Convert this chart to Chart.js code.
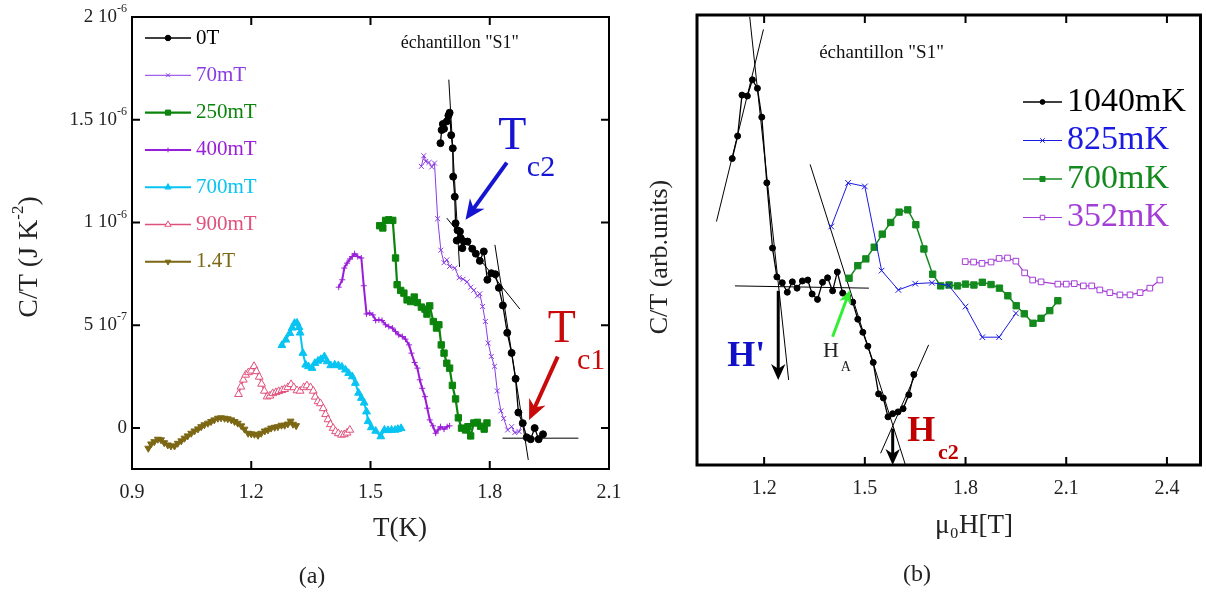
<!DOCTYPE html>
<html>
<head>
<meta charset="utf-8">
<script src="https://cdn.jsdelivr.net/npm/chart.js@4.4.1/dist/chart.umd.min.js"></script>
<style>
body{margin:0;background:#fff;}
#wrap{position:relative;width:1206px;height:597px;}
canvas{position:absolute;left:0;top:0;}
</style>
</head>
<body>
<div id="wrap">
<canvas id="left" width="1206" height="597"></canvas>
<canvas id="right" width="1206" height="597"></canvas>
</div>
<script>
// ---- panel (a): C/T vs T, C/T in units of 1e-7 J K^-2 ----
let t0T=[1.676,1.679,1.682,1.685,1.692,1.696,1.699,1.703,1.707,1.708,1.712,1.714,1.719,1.725,1.717,1.727,1.731,1.735,1.744,1.756,1.765,1.775,1.785,1.794,1.804,1.814,1.823,1.833,1.844,1.855,1.865,1.872,1.883,1.893,1.903,1.913,1.923,1.934];
let c0T=[13.86,14.5,14.79,14.56,14.92,15.2,15.34,14.25,13.61,12.23,11.25,9.96,9.62,9.56,9.12,9.24,8.75,9.07,9.07,8.72,8.48,8.13,8.59,7.21,7.53,7.48,6.82,5.96,4.63,3.65,2.39,0.75,0.23,-0.46,-0.55,-0.01,-0.55,-0.31];

let t70=[1.628,1.634,1.639,1.647,1.654,1.661,1.669,1.677,1.685,1.692,1.699,1.712,1.723,1.733,1.743,1.752,1.760,1.769,1.775,1.782,1.789,1.796,1.804,1.812,1.819,1.828,1.835,1.845,1.855,1.863,1.874,1.882];
let c70=[12.73,13.25,12.97,12.92,12.70,12.89,10.18,8.65,8.04,8.18,7.86,7.78,7.31,7.24,7.11,6.85,6.70,6.43,6.53,5.91,5.18,4.13,3.48,3.00,1.80,0.83,0.46,-0.10,0.06,-0.23,-0.18,0.23];

let t250=[1.523,1.531,1.538,1.546,1.556,1.563,1.567,1.576,1.584,1.592,1.601,1.610,1.618,1.628,1.637,1.642,1.649,1.658,1.666,1.672,1.678,1.685,1.692,1.699,1.706,1.714,1.721,1.729,1.739,1.745,1.752,1.760,1.769,1.777,1.786,1.793];
let c250=[9.84,9.73,10.10,10.13,10.10,8.27,6.97,6.69,6.56,6.23,6.15,6.37,6.10,5.88,5.78,5.54,5.94,5.18,4.86,5.02,4.04,3.64,3.15,2.91,2.07,1.41,0.49,-0.01,-0.10,0.06,-0.39,0.24,0.27,0.08,-0.06,0.24];

let t400=[1.420,1.429,1.434,1.441,1.448,1.454,1.460,1.468,1.477,1.483,1.490,1.498,1.506,1.513,1.521,1.529,1.538,1.546,1.555,1.563,1.571,1.580,1.588,1.597,1.603,1.611,1.618,1.624,1.630,1.637,1.643,1.649,1.657,1.664,1.670,1.676,1.685,1.693,1.699];
let c400=[6.85,7.21,7.78,8.02,8.22,8.34,8.48,8.34,8.27,6.92,5.55,5.59,5.50,5.23,5.26,5.23,5.02,4.93,4.86,4.69,4.53,4.45,4.32,4.04,3.64,3.18,2.91,2.34,1.93,1.52,0.96,0.39,0.10,-0.26,-0.10,0.06,-0.06,0.06,0.10];

let t700=[1.277,1.287,1.297,1.303,1.309,1.315,1.320,1.323,1.330,1.337,1.344,1.353,1.360,1.368,1.375,1.384,1.391,1.400,1.410,1.419,1.428,1.437,1.445,1.454,1.462,1.470,1.477,1.484,1.490,1.494,1.502,1.513,1.526,1.535,1.544,1.553,1.562,1.569,1.577];
let c700=[4.02,4.29,4.61,4.87,5.10,5.11,4.90,4.63,3.64,3.07,2.99,2.91,3.15,3.26,3.34,3.47,3.23,3.04,3.07,3.04,2.97,2.83,2.66,2.50,2.18,1.70,1.45,1.22,0.79,0.32,0.02,-0.15,-0.42,-0.10,-0.12,-0.10,-0.10,-0.06,-0.02];

let t900=[1.168,1.174,1.180,1.186,1.193,1.200,1.207,1.213,1.220,1.226,1.233,1.240,1.247,1.254,1.262,1.269,1.277,1.284,1.292,1.300,1.307,1.315,1.323,1.332,1.340,1.349,1.356,1.361,1.368,1.374,1.381,1.387,1.393,1.399,1.406,1.412,1.419,1.427,1.434,1.441,1.448];
let c900=[1.64,2.00,2.34,2.58,2.70,2.78,3.00,2.75,2.48,2.14,1.80,1.52,1.56,1.68,1.73,1.78,1.83,1.88,1.97,2.12,1.97,1.82,1.80,1.97,2.06,1.97,1.80,1.51,1.29,1.19,0.95,0.66,0.41,0.17,-0.01,-0.17,-0.27,-0.34,-0.32,-0.24,-0.10];

let t14=[0.941,0.948,0.956,0.965,0.973,0.981,0.990,0.998,1.007,1.015,1.024,1.032,1.040,1.049,1.057,1.066,1.074,1.082,1.091,1.099,1.107,1.116,1.124,1.133,1.141,1.150,1.158,1.166,1.175,1.183,1.192,1.200,1.208,1.217,1.225,1.234,1.242,1.250,1.259,1.267,1.276,1.284,1.292,1.299,1.305,1.313];
let c14=[-0.99,-0.78,-0.67,-0.55,-0.58,-0.72,-0.83,-0.88,-0.88,-0.75,-0.63,-0.50,-0.39,-0.26,-0.15,-0.05,0.06,0.15,0.23,0.31,0.39,0.47,0.49,0.47,0.44,0.39,0.31,0.23,0.10,-0.06,-0.26,-0.29,-0.31,-0.36,-0.26,-0.15,-0.10,-0.01,0.03,0.06,0.13,0.13,0.19,0.33,0.18,0.11];

// straight construction lines of panel (a), [T, C/T]
let fitSteep=[[1.697,16.95],[1.724,7.84]];
let fitTc2=[[1.692,10.21],[1.876,5.78]];
let fitTc1=[[1.813,8.91],[1.897,-1.56]];
let fitBase=[[1.832,-0.5],[2.023,-0.5]];

let tTicks=[0.9,1.2,1.5,1.8,2.1];
let tTickLabels=["0.9","1.2","1.5","1.8","2.1"];
let cTicks=[0,5,10,15,20];
let cTickMant=["0","5 10","1 10","1.5 10","2 10"];
let cTickExp=["","-7","-6","-6","-6"];

// ---- panel (b): C/T (arb. units) vs mu0 H ----
let h1040=[1.105,1.121,1.134,1.150,1.165,1.180,1.193,1.208,1.225,1.238,1.254,1.269,1.284,1.298,1.314,1.330,1.343,1.359,1.374,1.389,1.404,1.418,1.434,1.449,1.464,1.479,1.494,1.509,1.525,1.541,1.555,1.569,1.583,1.599,1.614,1.631,1.646];
let c1040=[68.1,73.1,82.2,82.0,85.6,83.7,77.3,62.7,48.2,41.8,40.5,38.4,40.7,39.3,40.9,41.1,38.0,36.8,40.6,41.6,38.7,42.9,38.2,37.4,36.2,32.4,29.5,26.4,22.8,15.8,14.9,10.7,11.4,11.8,12.5,15.6,20.1];

let h825=[1.40,1.45,1.50,1.55,1.60,1.65,1.70,1.75,1.80,1.85,1.90,1.95];
let c825=[53.0,62.7,61.9,43.2,38.9,40.3,40.5,39.9,35.2,28.4,28.4,33.7];

let h700=[1.453,1.479,1.503,1.528,1.552,1.577,1.602,1.628,1.652,1.676,1.702,1.726,1.751,1.776,1.800,1.825,1.850,1.876,1.901,1.926,1.951,1.975,2.001,2.025,2.051,2.075];
let c700mK=[41.5,44.3,45.8,48.4,51.3,53.9,56.2,56.7,53.4,48.0,42.4,39.8,40.0,39.8,40.2,40.0,40.6,40.1,39.3,37.6,35.4,33.6,31.5,32.6,34.3,36.5];

let h352=[1.799,1.824,1.849,1.876,1.900,1.925,1.950,1.976,2.000,2.025,2.075,2.100,2.124,2.151,2.176,2.200,2.230,2.260,2.290,2.320,2.349,2.379];
let c352=[45.2,45.1,44.8,45.1,45.9,46.0,45.3,42.7,41.1,40.7,40.2,40.2,40.3,39.8,39.8,38.9,38.3,37.8,37.8,38.3,39.3,41.1];

let fitRise=[[1.058,54.1],[1.198,96.8]];
let fitFall=[[1.157,99.6],[1.273,18.9]];
let fitFlat=[[1.113,39.8],[1.512,39.3]];
let fitHA=[[1.337,66.8],[1.621,0]];
let fitHc2=[[1.547,2.6],[1.690,26.7]];

let hTicks=[1.2,1.5,1.8,2.1,2.4];
let hTickLabels=["1.2","1.5","1.8","2.1","2.4"];

const SERIF="'Liberation Serif', 'DejaVu Serif', serif";

function pts(xs,ys){ return xs.map((x,i)=>({x:x,y:ys[i]})); }

function series(label,xs,ys,color,style,r,bw,fillc,rot,pbw){
  return {
    label:label, data:pts(xs,ys),
    borderColor:color, backgroundColor:color,
    pointStyle:style, pointRadius:r, pointHoverRadius:r,
    pointBackgroundColor:fillc||color, pointBorderColor:color,
    pointBorderWidth:pbw||1, pointRotation:rot||0,
    borderWidth:bw, showLine:true, tension:0, fill:false
  };
}

function fitLine(p){
  return {label:"", data:p.map(q=>({x:q[0],y:q[1]})), borderColor:"#000", borderWidth:1,
    pointRadius:0, showLine:true, fill:false};
}

function txt(ctx,s,x,y,font,color,align,rot){
  ctx.save();
  ctx.font=font; ctx.fillStyle=color; ctx.textAlign=align||"center"; ctx.textBaseline="middle";
  ctx.translate(x,y);
  if(rot) ctx.rotate(rot);
  ctx.fillText(s,0,0);
  ctx.restore();
}

// text with a raised exponent, drawn left-to-right from x (or rotated)
function supTxt(ctx,base,sup,tail,x,y,size,color,align,rot){
  ctx.save();
  ctx.fillStyle=color; ctx.textBaseline="middle"; ctx.textAlign="left";
  ctx.font=size+"px "+SERIF;
  let w1=ctx.measureText(base).width, w3=ctx.measureText(tail).width;
  ctx.font=Math.round(size*0.62)+"px "+SERIF;
  let w2=ctx.measureText(sup).width;
  let tot=w1+w2+w3;
  ctx.translate(x,y);
  if(rot) ctx.rotate(rot);
  let x0=align==="right"?-tot:(align==="center"?-tot/2:0);
  ctx.font=size+"px "+SERIF;
  ctx.fillText(base,x0,0);
  ctx.font=Math.round(size*0.62)+"px "+SERIF;
  ctx.fillText(sup,x0+w1,-size*0.42);
  ctx.font=size+"px "+SERIF;
  ctx.fillText(tail,x0+w1+w2,0);
  ctx.restore();
}

function arrow(ctx,x1,y1,x2,y2,color,w,head){
  let a=Math.atan2(y2-y1,x2-x1);
  let c=Math.cos(a), s=Math.sin(a);
  let bx=x2-head*c, by=y2-head*s;
  ctx.save();
  ctx.strokeStyle=color; ctx.fillStyle=color; ctx.lineWidth=w;
  ctx.beginPath(); ctx.moveTo(x1,y1); ctx.lineTo(x2-head*0.6*c,y2-head*0.6*s); ctx.stroke();
  ctx.beginPath();
  ctx.moveTo(x2,y2);
  ctx.lineTo(bx-head*0.45*s, by+head*0.45*c);
  ctx.lineTo(x2-head*0.7*c, y2-head*0.7*s);
  ctx.lineTo(bx+head*0.45*s, by-head*0.45*c);
  ctx.closePath(); ctx.fill();
  ctx.restore();
}

function frame(chart,lw,xt,yt){
  let ctx=chart.ctx, a=chart.chartArea;
  let xs=chart.scales.x, ys=chart.scales.y;
  ctx.save();
  ctx.strokeStyle="#000"; ctx.lineWidth=lw;
  ctx.strokeRect(a.left,a.top,a.right-a.left,a.bottom-a.top);
  ctx.lineWidth=2;
  ctx.beginPath();
  xt.forEach(v=>{
    let p=xs.getPixelForValue(v);
    ctx.moveTo(p,a.bottom); ctx.lineTo(p,a.bottom-8);
    ctx.moveTo(p,a.top); ctx.lineTo(p,a.top+8);
  });
  yt.forEach(v=>{
    let p=ys.getPixelForValue(v);
    ctx.moveTo(a.left,p); ctx.lineTo(a.left+8,p);
    ctx.moveTo(a.right,p); ctx.lineTo(a.right-8,p);
  });
  ctx.stroke();
  ctx.restore();
}

function legend(chart,x1,x2,tx,y0,dy,font){
  let ctx=chart.ctx, row=0;
  chart.data.datasets.forEach(ds=>{
    if(!ds.label) return;
    let y=y0+row*dy; row++;
    ctx.save();
    ctx.strokeStyle=ds.borderColor; ctx.lineWidth=ds.borderWidth;
    ctx.beginPath(); ctx.moveTo(x1,y); ctx.lineTo(x2,y); ctx.stroke();
    ctx.fillStyle=ds.pointBackgroundColor; ctx.strokeStyle=ds.pointBorderColor; ctx.lineWidth=ds.pointBorderWidth;
    Chart.helpers.drawPoint(ctx,{pointStyle:ds.pointStyle,rotation:ds.pointRotation,radius:ds.pointRadius*0.8,borderWidth:ds.pointBorderWidth},(x1+x2)/2,y);
    ctx.restore();
    txt(ctx,ds.label,tx,y,font,ds.borderColor,"left");
  });
}

const leftDecor={
  id:"leftDecor",
  afterDraw(chart){
    let ctx=chart.ctx, X=chart.scales.x, Y=chart.scales.y;
    let px=v=>X.getPixelForValue(v), py=v=>Y.getPixelForValue(v);
    frame(chart,2,tTicks,cTicks);
    // y tick labels with raised exponents
    cTicks.forEach((v,i)=>{
      let w=cTickExp[i]?0:0;
      supTxt(ctx,cTickMant[i],cTickExp[i],"",127,py(v),19,"#222","right");
    });
    legend(chart,145,191,196,38,37.3,"21px "+SERIF);
    txt(ctx,"\u00E9chantillon \"S1\"",px(1.576),py(18.7),"18px "+SERIF,"#111","left");
    // Tc2
    arrow(ctx,px(1.843),py(12.91),px(1.739),py(10.13),"#1414d2",4,20);
    txt(ctx,"T",px(1.857),py(14.17),"46px "+SERIF,"#1414d2");
    txt(ctx,"c2",px(1.929),py(12.66),"30px "+SERIF,"#1414d2");
    // Tc1
    arrow(ctx,px(1.971),py(3.47),px(1.899),py(0.39),"#c80a0a",4,20);
    txt(ctx,"T",px(1.981),py(4.77),"46px "+SERIF,"#c80a0a");
    txt(ctx,"c1",px(2.055),py(3.26),"30px "+SERIF,"#c80a0a");
    // axis titles
    txt(ctx,"T(K)",400,529,"27px "+SERIF,"#222");
    supTxt(ctx,"C/T (J K","-2",")",30,257,28,"#222","center",-Math.PI/2);
    txt(ctx,"(a)",312,577,"24px "+SERIF,"#222");
  }
};

const rightDecor={
  id:"rightDecor",
  afterDraw(chart){
    let ctx=chart.ctx, X=chart.scales.x, Y=chart.scales.y;
    let px=v=>X.getPixelForValue(v), py=v=>Y.getPixelForValue(v);
    frame(chart,3,hTicks,[]);
    legend(chart,1023,1062,1067,102,38.5,"34px "+SERIF);
    txt(ctx,"\u00E9chantillon \"S1\"",px(1.364),py(91.6),"19px "+SERIF,"#111","left");
    // H'
    arrow(ctx,px(1.242),py(38.7),px(1.242),py(18.9),"#000",3,16);
    txt(ctx,"H'",px(1.147),py(24.0),"bold 36px "+SERIF,"#1010c8");
    // HA
    arrow(ctx,px(1.404),py(28.5),px(1.456),py(38.9),"#33ee33",3,14);
    txt(ctx,"H",px(1.399),py(25.2),"22px "+SERIF,"#222");
    txt(ctx,"A",px(1.443),py(21.8),"14px "+SERIF,"#222");
    // Hc2
    arrow(ctx,px(1.583),py(8.1),px(1.583),py(0),"#000",3,16);
    txt(ctx,"H",px(1.668),py(7.44),"bold 36px "+SERIF,"#c00000");
    txt(ctx,"c2",px(1.749),py(2.56),"bold 22px "+SERIF,"#c00000");
    // axis titles
    txt(ctx,"\u03BC\u2080H[T]",974,526,"27px "+SERIF,"#222");
    txt(ctx,"C/T (arb.units)",660,257,"26px "+SERIF,"#222","center",-Math.PI/2);
    txt(ctx,"(b)",917,575,"24px "+SERIF,"#222");
  }
};

function axes(xmin,xmax,xt,xl,ymin,ymax,yt,xh,yw){
  return {
    x:{type:"linear",min:xmin,max:xmax,
      grid:{display:false,drawTicks:false},border:{display:false},
      afterBuildTicks:s=>{s.ticks=xt.map(v=>({value:v}));},
      afterFit:s=>{s.height=xh;},
      ticks:{padding:12,color:"#222",font:{family:SERIF,size:20},callback:(v,i)=>xl[i]}},
    y:{type:"linear",min:ymin,max:ymax,
      grid:{display:false,drawTicks:false},border:{display:false},
      afterBuildTicks:s=>{s.ticks=yt.map(v=>({value:v}));},
      afterFit:s=>{s.width=yw;},
      ticks:{display:false}}
  };
}

const common={responsive:false,animation:false,events:[],
  plugins:{legend:{display:false},tooltip:{enabled:false}}};

new Chart(document.getElementById("left"),{
  type:"scatter",
  data:{datasets:[
    series("0T",t0T,c0T,"#000000","circle",3.5,1.3),
    series("70mT",t70,c70,"#8a3ce4","crossRot",3.5,1),
    series("250mT",t250,c250,"#0b840b","rect",4.5,2.2),
    series("400mT",t400,c400,"#9a1ed8","cross",3,2),
    series("700mT",t700,c700,"#08c4f2","triangle",4.5,2),
    series("900mT",t900,c900,"#e0507c","triangle",4.5,1.5,"#ffffff"),
    series("1.4T",t14,c14,"#7c6814","triangle",4,2,null,180),
    fitLine(fitSteep),fitLine(fitTc2),fitLine(fitTc1),fitLine(fitBase)
  ]},
  options:Object.assign({},common,{
    layout:{padding:{left:0,top:17,right:597,bottom:0}},
    scales:axes(0.9,2.1,tTicks,tTickLabels,-2,20,cTicks,128,132)
  }),
  plugins:[leftDecor]
});

new Chart(document.getElementById("right"),{
  type:"scatter",
  data:{datasets:[
    series("1040mK",h1040,c1040,"#000000","circle",3,1.3),
    series("825mK",h825,c825,"#1a1ae0","crossRot",4,1),
    series("700mK",h700,c700mK,"#148a1e","rect",4.5,1.5),
    series("352mK",h352,c352,"#a43cd6","rect",4,1.2,"#ffffff"),
    fitLine(fitRise),fitLine(fitFall),fitLine(fitFlat),fitLine(fitHA),fitLine(fitHc2)
  ]},
  options:Object.assign({},common,{
    layout:{padding:{left:0,top:15,right:3,bottom:0}},
    scales:axes(1.0,2.5,hTicks,hTickLabels,0,100,[],132,697)
  }),
  plugins:[rightDecor]
});
</script>
</body>
</html>
